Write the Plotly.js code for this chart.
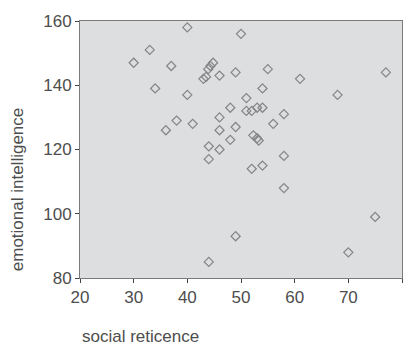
<!DOCTYPE html>
<html>
<head>
<meta charset="utf-8">
<script src="https://cdn.plot.ly/plotly-3.0.1.min.js"></script>
<style>html,body{margin:0;padding:0;background:#fff;}#chart{width:411px;height:347px;}</style>
</head>
<body>
<div id="chart"></div>
<script>
// social reticence (x) vs emotional intelligence (y)
const socialReticence = [40, 33, 30, 37, 34, 40, 38, 36, 41,
  50, 44.8, 44.3, 43.9, 43.5, 43, 46, 49, 55, 61, 54, 51, 48,
  51, 52, 53, 54, 58, 46, 56, 49, 46, 52.3, 53, 53.3, 48, 44, 46,
  44, 52, 54, 58, 58, 49, 44, 77, 68, 75, 70];
const emotionalIntelligence = [158, 151, 147, 146, 139, 137, 129, 126, 128,
  156, 147, 146, 145, 142.6, 142, 143, 144, 145, 142, 139, 136, 133,
  132, 132, 133, 133, 131, 130, 128, 127, 126, 124.4, 123.5, 122.8, 123, 121, 120,
  117, 114, 115, 118, 108, 93, 85, 144, 137, 99, 88];
const xTicks = [20, 30, 40, 50, 60, 70, 80];
const yTicks = [80, 100, 120, 140, 160];
const xTitle = "social reticence";
const yTitle = "emotional intelligence";

const font = {family: "Liberation Sans, Arial, sans-serif", size: 17, color: "#4d4d4d"};

Plotly.newPlot("chart", [{
  type: "scatter",
  mode: "markers",
  x: socialReticence,
  y: emotionalIntelligence,
  marker: {symbol: "diamond-open", size: 7, color: "#858585", line: {width: 1.2, color: "#858585"}},
  hoverinfo: "skip"
}], {
  width: 411, height: 347,
  margin: {l: 80, r: 9, t: 21, b: 69},
  paper_bgcolor: "#ffffff",
  plot_bgcolor: "#dddee0",
  showlegend: false,
  font: font,
  xaxis: {
    range: [20, 80], tickvals: xTicks, ticktext: xTicks.map(String),
    showgrid: false, zeroline: false,
    showline: true, linecolor: "#7a7a7a", linewidth: 1, mirror: true,
    ticks: "outside", ticklen: 4, tickcolor: "#444",
    tickfont: font
  },
  yaxis: {
    range: [80, 160], tickvals: yTicks, ticktext: yTicks.map(String),
    showgrid: false, zeroline: false,
    showline: true, linecolor: "#7a7a7a", linewidth: 1, mirror: true,
    ticks: "outside", ticklen: 4, tickcolor: "#444",
    tickfont: font
  },
  annotations: [
    {text: xTitle, xref: "paper", yref: "paper", x: 0, y: -0.227,
     xanchor: "left", yanchor: "middle", showarrow: false, font: font},
    {text: yTitle, xref: "paper", yref: "paper", x: -0.196, y: 0.345,
     xanchor: "center", yanchor: "middle", textangle: -90, showarrow: false, font: font}
  ]
}, {staticPlot: true, displayModeBar: false});
</script>
</body>
</html>
